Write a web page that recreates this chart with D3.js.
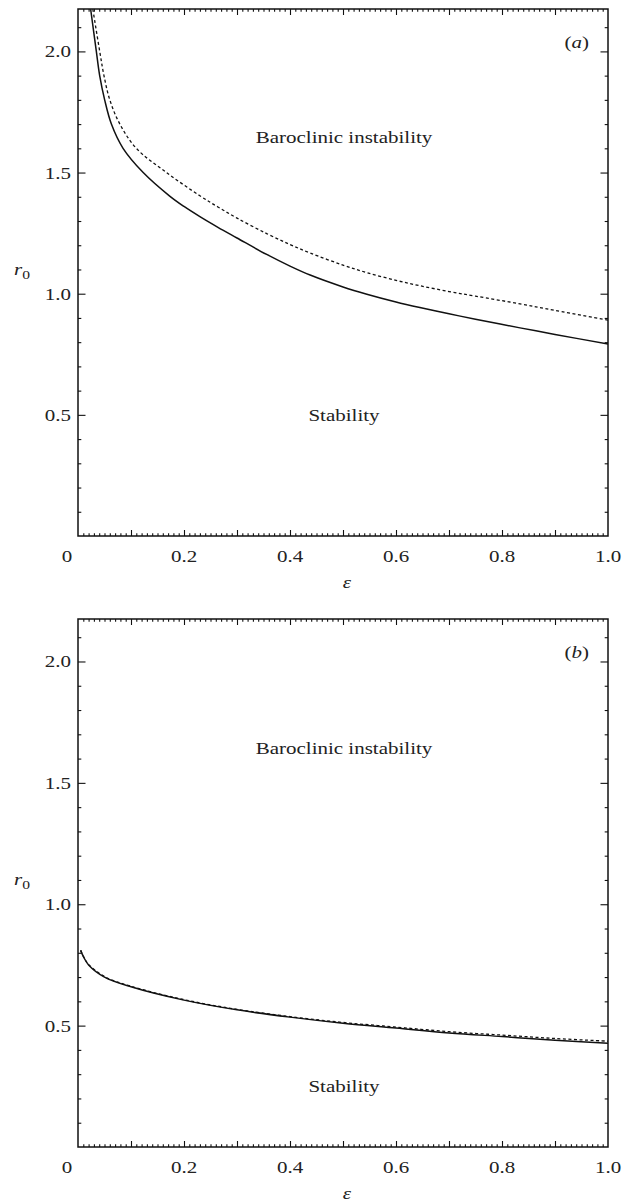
<!DOCTYPE html>
<html>
<head>
<meta charset="utf-8">
<script src="https://cdn.jsdelivr.net/npm/d3@7"></script>
<style>
  body { margin: 0; background: #fff; }
  svg { display: block; }
</style>
</head>
<body>
<div id="chart"></div>
<script>
// values
const epsSolidA = [0.0239, 0.0346, 0.0409, 0.0503, 0.063, 0.085, 0.123, 0.173, 0.20, 0.23, 0.264, 0.30, 0.356, 0.40, 0.438, 0.50, 0.545, 0.60, 0.645, 0.70, 0.75, 0.834, 0.90, 1.0];
const r0SolidA  = [2.174, 2.0, 1.9, 1.8, 1.7, 1.6, 1.5, 1.403, 1.36, 1.318, 1.274, 1.230, 1.162, 1.114, 1.077, 1.028, 0.998, 0.966, 0.943, 0.917, 0.895, 0.859, 0.832, 0.792];
const epsDashA  = [0.028, 0.041, 0.049, 0.060, 0.079, 0.11, 0.167, 0.23, 0.264, 0.30, 0.356, 0.40, 0.438, 0.50, 0.545, 0.60, 0.645, 0.70, 0.75, 0.834, 0.90, 1.0];
const r0DashA   = [2.174, 2.0, 1.9, 1.8, 1.7, 1.6, 1.5, 1.404, 1.358, 1.312, 1.248, 1.203, 1.168, 1.118, 1.087, 1.055, 1.033, 1.009, 0.990, 0.958, 0.931, 0.891];

const epsSolidB = [0.005, 0.01, 0.02, 0.05, 0.1, 0.2, 0.3, 0.4, 0.5, 0.6, 0.7, 0.8, 0.9, 1.0];
const r0SolidB  = [0.81, 0.785, 0.75, 0.70, 0.66, 0.605, 0.565, 0.535, 0.51, 0.49, 0.47, 0.455, 0.44, 0.427];
const epsDashB  = [0.005, 0.01, 0.02, 0.05, 0.1, 0.2, 0.3, 0.4, 0.5, 0.6, 0.7, 0.8, 0.9, 1.0];
const r0DashB   = [0.81, 0.786, 0.752, 0.702, 0.662, 0.607, 0.567, 0.537, 0.513, 0.494, 0.475, 0.461, 0.447, 0.436];

const xTickLabels = [0.2, 0.4, 0.6, 0.8, 1.0];
const yTickLabels = [0.5, 1.0, 1.5, 2.0];

const panels = [
  { tag: "a", top: 9, bottom: 536, stab: 0.5, solid: [epsSolidA, r0SolidA], dash: [epsDashA, r0DashA] },
  { tag: "b", top: 619, bottom: 1147, stab: 0.25, solid: [epsSolidB, r0SolidB], dash: [epsDashB, r0DashB] }
];

const width = 624, height = 1202;
const left = 78, right = 608;
const FONT = "'Liberation Serif', 'Times New Roman', Times, serif";
const SX = 1.2; // the figure's lettering is stretched sideways

const svg = d3.select("#chart").append("svg")
  .attr("width", width)
  .attr("height", height)
  .attr("font-family", FONT);

// text placed with a horizontal stretch
function label(g, x, y, anchor, size) {
  return g.append("g")
    .attr("transform", `translate(${x},${y}) scale(${SX},1)`)
    .append("text")
    .attr("text-anchor", anchor)
    .attr("font-size", size)
    .attr("fill", "#222");
}

panels.forEach(p => {
  const x = d3.scaleLinear().domain([0, 1]).range([left, right]);
  const y = d3.scaleLinear().domain([0, 2.175]).range([p.bottom, p.top]);
  const g = svg.append("g");

  function i10(v) { return Math.abs(v * 10 - Math.round(v * 10)) < 1e-6; }
  const minorX = d3.range(1, 100).map(i => i / 100).filter(v => !i10(v));
  const majorX = d3.range(1, 10).map(i => i / 10);
  const minorY = d3.range(1, 22).map(i => i / 10).filter(v => Math.abs(v * 2 - Math.round(v * 2)) > 1e-6);
  const majorY = yTickLabels;

  // ticks, inward on all four sides
  const addAxis = (axis, transform) => {
    const a = g.append("g").attr("transform", transform).call(axis);
    a.select(".domain").remove();
    a.selectAll("text").remove();
    a.selectAll("line").attr("stroke", "#111").attr("stroke-width", 1.1);
  };
  addAxis(d3.axisBottom(x).tickValues(minorX).tickSize(-2.7), `translate(0,${p.bottom})`);
  addAxis(d3.axisBottom(x).tickValues(majorX).tickSize(-6), `translate(0,${p.bottom})`);
  addAxis(d3.axisTop(x).tickValues(minorX).tickSize(-2.7), `translate(0,${p.top})`);
  addAxis(d3.axisTop(x).tickValues(majorX).tickSize(-6), `translate(0,${p.top})`);
  addAxis(d3.axisLeft(y).tickValues(minorY).tickSize(-3.3), `translate(${left},0)`);
  addAxis(d3.axisLeft(y).tickValues(majorY).tickSize(-7.5), `translate(${left},0)`);
  addAxis(d3.axisRight(y).tickValues(minorY).tickSize(-3.3), `translate(${right},0)`);
  addAxis(d3.axisRight(y).tickValues(majorY).tickSize(-7.5), `translate(${right},0)`);

  // frame
  g.append("rect")
    .attr("x", left).attr("y", p.top)
    .attr("width", right - left).attr("height", p.bottom - p.top)
    .attr("fill", "none").attr("stroke", "#111").attr("stroke-width", 1.5);

  // tick labels
  xTickLabels.forEach(d => label(g, x(d), p.bottom + 26, "middle", 17.5).text(d.toFixed(1)));
  label(g, x(0) - 11, p.bottom + 26, "middle", 17.5).text("0");
  yTickLabels.forEach(d => label(g, left - 7, y(d) + 6, "end", 17.5).text(d.toFixed(1)));

  // axis titles
  label(g, 347, p.bottom + 52, "middle", 17.5).attr("font-style", "italic").text("ε");
  const rt = label(g, 14, y(1.0) - 19, "start", 17.5);
  rt.append("tspan").attr("font-style", "italic").text("r");
  rt.append("tspan").attr("font-size", 13).attr("dy", 4).text("0");

  // labels inside
  label(g, 589, p.top + 39, "end", 17.5)
    .html(`(<tspan font-style="italic">${p.tag}</tspan>)`);
  label(g, 344, y(1.62), "middle", 17.5).text("Baroclinic instability");
  label(g, 344, y(p.stab) + 6, "middle", 17.5).text("Stability");

  // curves
  const line = d3.line()
    .x(d => x(d[0])).y(d => y(d[1]))
    .curve(d3.curveCatmullRom.alpha(0.5));
  const clipId = "clip" + p.tag;
  g.append("clipPath").attr("id", clipId).append("rect")
    .attr("x", left).attr("y", p.top).attr("width", right - left).attr("height", p.bottom - p.top);

  g.append("path")
    .datum(d3.zip(p.dash[0], p.dash[1]))
    .attr("clip-path", `url(#${clipId})`)
    .attr("d", line)
    .attr("fill", "none").attr("stroke", "#111").attr("stroke-width", 1.3)
    .attr("stroke-dasharray", "3,2.5");
  g.append("path")
    .datum(d3.zip(p.solid[0], p.solid[1]))
    .attr("clip-path", `url(#${clipId})`)
    .attr("d", line)
    .attr("fill", "none").attr("stroke", "#111").attr("stroke-width", 1.5);
});
</script>
</body>
</html>
